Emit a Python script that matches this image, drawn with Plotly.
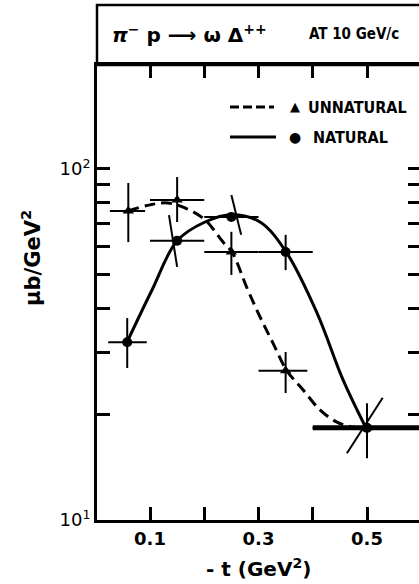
import plotly.graph_objects as go

# ---- measured cross sections, pi- p -> omega Delta++ at 10 GeV/c ----
# unnatural-parity exchange (triangles)
unn_t = [0.06, 0.15, 0.25, 0.35, 0.50]
unn_sig = [75.9, 81.6, 58.0, 26.6, 18.3]
unn_sig_hi = [91.2, 94.8, 66.2, 30.1, 21.5]
unn_sig_lo = [61.9, 70.6, 49.9, 23.0, 15.0]
unn_t_lo = [0.026, 0.10, 0.20, 0.30, 0.40]
unn_t_hi = [0.091, 0.20, 0.30, 0.39, 0.62]

# natural-parity exchange (circles)
nat_t = [0.058, 0.15, 0.25, 0.35, 0.50]
nat_sig = [32.1, 62.4, 73.0, 58.0, 18.3]
nat_t_lo = [0.023, 0.10, 0.20, 0.30, 0.40]
nat_t_hi = [0.094, 0.20, 0.30, 0.40, 0.62]
# end points of the (partly tilted) sigma error bars
nat_err_top_t = [0.058, 0.135, 0.25, 0.35, 0.529]
nat_err_top_sig = [37.6, 73.9, 84.3, 64.9, 22.3]
nat_err_bot_t = [0.058, 0.15, 0.268, 0.35, 0.463]
nat_err_bot_sig = [27.1, 52.6, 64.9, 51.5, 15.5]

# hand-drawn fit curves
nat_curve_t = [0.0576, 0.1037, 0.150, 0.2014, 0.251, 0.3028, 0.351,
               0.4078, 0.4557, 0.498]
nat_curve_sig = [32.1, 45.2, 62.4, 70.6, 74.0, 70.6, 58.0,
                 38.9, 25.1, 18.3]
unn_curve_t = [0.0594, 0.100, 0.133, 0.1645, 0.2014, 0.2346, 0.251,
               0.2788, 0.3028, 0.3267, 0.3525, 0.382, 0.4133, 0.4445,
               0.474, 0.498]
unn_curve_sig = [75.9, 79.0, 80.0, 77.4, 71.6, 61.9, 58.0,
                 45.8, 37.9, 31.9, 26.6, 23.5, 20.6, 19.0,
                 18.4, 18.3]

# axis ticks
x_ticks = [0.1, 0.2, 0.3, 0.4, 0.5]
x_ticktext = ["0.1", "", "0.3", "", "0.5"]
y_ticks = [10, 20, 30, 40, 50, 60, 70, 80, 90, 100]
y_ticktext = ["10<sup>1</sup>", "", "", "", "", "", "", "", "", "10<sup>2</sup>"]

FONT = "DejaVu Sans"
NARROW = "DejaVu Sans Condensed, DejaVu Sans"
INK = "black"

W, H = 419, 584
L, R, T, B = 97, 0, 65, 64
PW, PH = W - L - R, H - T - B
X_RANGE = [0.0023, 0.0023 + PW / 542.5]
Y_RANGE = [1.0, 2.296]


def px(xp):
    return (xp - L) / PW


def py(yp):
    return (H - B - yp) / PH


fig = go.Figure()

# fit curves
fig.add_trace(go.Scatter(x=unn_curve_t, y=unn_curve_sig, mode="lines",
                         line=dict(color=INK, width=3, dash="11px,6px",
                                   shape="spline", smoothing=1.0),
                         hoverinfo="skip"))
fig.add_trace(go.Scatter(x=nat_curve_t, y=nat_curve_sig, mode="lines",
                         line=dict(color=INK, width=3, shape="spline", smoothing=1.0),
                         hoverinfo="skip"))

# natural: sigma error bars as segments
seg_x, seg_y = [], []
for a, b, c, d in zip(nat_err_top_t, nat_err_top_sig, nat_err_bot_t, nat_err_bot_sig):
    seg_x += [a, c, None]
    seg_y += [b, d, None]
fig.add_trace(go.Scatter(x=seg_x, y=seg_y, mode="lines",
                         line=dict(color=INK, width=2), hoverinfo="skip"))

# the last t bin is shared and drawn heavier
fig.add_trace(go.Scatter(x=[nat_t_lo[-1], nat_t_hi[-1]], y=[nat_sig[-1], nat_sig[-1]],
                         mode="lines", line=dict(color=INK, width=5), hoverinfo="skip"))

# natural points with t bins
fig.add_trace(go.Scatter(
    x=nat_t, y=nat_sig, mode="markers",
    marker=dict(symbol="circle", size=10, color=INK),
    error_x=dict(type="data", symmetric=False,
                 array=[h - t for h, t in zip(nat_t_hi, nat_t)],
                 arrayminus=[t - l for l, t in zip(nat_t_lo, nat_t)],
                 color=INK, thickness=2, width=0),
    hoverinfo="skip"))

# unnatural points with t bins and sigma errors
fig.add_trace(go.Scatter(
    x=unn_t, y=unn_sig, mode="markers",
    marker=dict(symbol="triangle-up", size=10, color=INK),
    error_x=dict(type="data", symmetric=False,
                 array=[h - t for h, t in zip(unn_t_hi, unn_t)],
                 arrayminus=[t - l for l, t in zip(unn_t_lo, unn_t)],
                 color=INK, thickness=2, width=0),
    error_y=dict(type="data", symmetric=False,
                 array=[h - s for h, s in zip(unn_sig_hi, unn_sig)],
                 arrayminus=[s - l for l, s in zip(unn_sig_lo, unn_sig)],
                 color=INK, thickness=2, width=0),
    hoverinfo="skip"))

# empty traces on the mirrored top / right axes
fig.add_trace(go.Scatter(x=[None], y=[None], xaxis="x2", yaxis="y", showlegend=False))
fig.add_trace(go.Scatter(x=[None], y=[None], xaxis="x", yaxis="y2", showlegend=False))

fig.update_layout(
    width=W, height=H,
    margin=dict(l=L, r=R, t=T, b=B, pad=0),
    paper_bgcolor="white", plot_bgcolor="white",
    showlegend=False,
    font=dict(family=FONT, color=INK),
    xaxis=dict(range=X_RANGE, tickvals=x_ticks, ticktext=x_ticktext,
               ticks="inside", ticklen=13, tickwidth=2.5, tickcolor=INK,
               showline=True, linewidth=3, linecolor=INK,
               showgrid=False, zeroline=False,
               tickfont=dict(family=FONT, size=18, color=INK, weight="bold")),
    xaxis2=dict(range=X_RANGE, overlaying="x", side="top", anchor="y",
                tickvals=x_ticks, ticks="inside", ticklen=13, tickwidth=2.5,
                tickcolor=INK, showticklabels=False,
                showline=True, linewidth=3, linecolor=INK,
                showgrid=False, zeroline=False),
    yaxis=dict(type="log", range=Y_RANGE, tickvals=y_ticks, ticktext=y_ticktext,
               ticks="inside", ticklen=13, tickwidth=3, tickcolor=INK,
               showline=True, linewidth=3, linecolor=INK,
               showgrid=False, zeroline=False,
               tickfont=dict(family=FONT, size=18, color=INK)),
    yaxis2=dict(type="log", range=Y_RANGE, overlaying="y", side="right", anchor="x",
                tickvals=y_ticks, ticks="inside", ticklen=11, tickwidth=3,
                tickcolor=INK, showticklabels=False, showline=False,
                showgrid=False, zeroline=False),
)

# header box with reaction label
fig.add_shape(type="rect", xref="paper", yref="paper",
              x0=0, x1=1.05, y0=1, y1=py(5),
              line=dict(color=INK, width=2.5))
fig.add_annotation(xref="paper", yref="paper", x=px(110), y=py(34),
                   xanchor="left", yanchor="middle", showarrow=False,
                   text="<b><i>π</i><sup>−</sup> p ⟶ ω Δ<sup>++</sup></b>",
                   font=dict(family=FONT, size=20, color=INK))
fig.add_annotation(xref="paper", yref="paper", x=px(307), y=py(34),
                   xanchor="left", yanchor="middle", showarrow=False,
                   text="<b>AT 10 GeV/c</b>",
                   font=dict(family=NARROW, size=15, color=INK))

# key
fig.add_shape(type="line", xref="paper", yref="paper",
              x0=px(230), x1=px(274), y0=py(107), y1=py(107),
              line=dict(color=INK, width=3, dash="9px,4px"))
fig.add_shape(type="line", xref="paper", yref="paper",
              x0=px(230), x1=px(276), y0=py(137), y1=py(137),
              line=dict(color=INK, width=3))
fig.add_annotation(xref="paper", yref="paper", x=px(295), y=py(106),
                   xanchor="center", yanchor="middle", showarrow=False,
                   text="▲", font=dict(family=FONT, size=13, color=INK))
fig.add_annotation(xref="paper", yref="paper", x=px(295), y=py(137),
                   xanchor="center", yanchor="middle", showarrow=False,
                   text="●", font=dict(family=FONT, size=14, color=INK))
fig.add_annotation(xref="paper", yref="paper", x=px(306), y=py(107),
                   xanchor="left", yanchor="middle", showarrow=False,
                   text="<b>UNNATURAL</b>", font=dict(family=NARROW, size=16, color=INK))
fig.add_annotation(xref="paper", yref="paper", x=px(311), y=py(137),
                   xanchor="left", yanchor="middle", showarrow=False,
                   text="<b>NATURAL</b>", font=dict(family=NARROW, size=16, color=INK))

# axis titles
fig.add_annotation(xref="paper", yref="paper", x=px(31), y=py(258),
                   xanchor="center", yanchor="middle", showarrow=False,
                   textangle=-90, text="<b>μb/GeV<sup>2</sup></b>",
                   font=dict(family=FONT, size=21, color=INK))
fig.add_annotation(xref="paper", yref="paper", x=px(258), y=py(568),
                   xanchor="center", yanchor="middle", showarrow=False,
                   text="<b>- t (GeV<sup>2</sup>)</b>",
                   font=dict(family=FONT, size=20, color=INK))

fig.write_html("out.html")
